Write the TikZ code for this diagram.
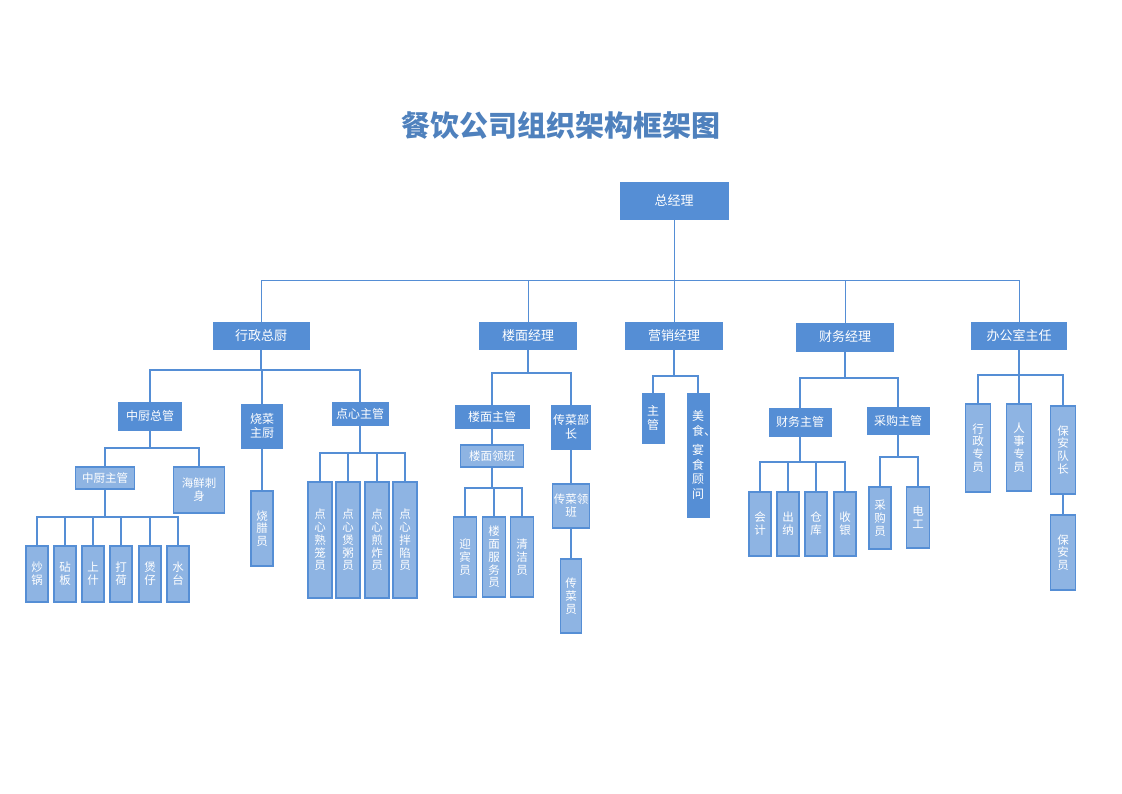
\documentclass[tikz,border=0pt]{standalone}
\usepackage{fontspec}
\setmainfont{Noto Sans CJK SC}
\usepackage{tikz}
\definecolor{deep}{RGB}{85,142,213}
\definecolor{pale}{RGB}{142,180,227}
\definecolor{headblue}{RGB}{79,129,189}

\begin{document}
\begin{tikzpicture}[x=1pt,y=-1pt,
                    headbox/.style={fill=deep,draw=deep,text=white,inner sep=0pt,align=center,font=\fontsize{12}{14.5}\selectfont},
                    staffbox/.style={fill=pale,draw=deep,line width=1.2pt,text=white,inner sep=0pt,align=center,font=\fontsize{11.5}{12.8}\selectfont},
                    link/.style={draw=deep,line width=1.4pt}]
                      \useasboundingbox (0,0) rectangle (1122,793);
                      \node[font=\bfseries\fontsize{29}{32}\selectfont,text=headblue](title)at(561,125){餐饮公司组织架构框架图};
                      \node[headbox,minimum width=108,minimum height=37,font=\fontsize{13}{15}\selectfont](zjl)at(674,200.5){总经理};
                      \node[headbox,minimum width=96,minimum height=27,font=\fontsize{13}{15}\selectfont](xzzc)at(261,335.5){行政总厨};
                      \node[headbox,minimum width=97,minimum height=27,font=\fontsize{13}{15}\selectfont](lmjl)at(528,335.5){楼面经理};
                      \node[headbox,minimum width=97,minimum height=27,font=\fontsize{13}{15}\selectfont](yxjl)at(674,335.5){营销经理};
                      \node[headbox,minimum width=97,minimum height=28,font=\fontsize{13}{15}\selectfont](cwjl)at(845,337){财务经理};
                      \node[headbox,minimum width=95,minimum height=27,font=\fontsize{13}{15}\selectfont](bgs)at(1019,335.5){办公室主任};
                      \coordinate (t0) at (674,280);
                      \draw[link,line width=1pt] (zjl) -- (t0);
                      \foreach \n in {xzzc,lmjl,yxjl,cwjl,bgs} \draw[link,line width=1pt] (t0) -| (\n.north);
                      \node[headbox,minimum width=63,minimum height=28](zczg)at(150,416){中厨总管};
                      \node[headbox,minimum width=41,minimum height=44](sczc)at(262,426){烧菜\\主厨};
                      \node[headbox,minimum width=56,minimum height=23](dxzg)at(360,413.5){点心主管};
                      \coordinate (t1) at (261,370);
                      \draw[link] (xzzc) -- (t1);
                      \foreach \n in {zczg,sczc,dxzg} \draw[link] (t1) -| (\n.north);
                      \node[staffbox,minimum width=59,minimum height=22](zczhu)at(105,478){中厨主管};
                      \node[staffbox,minimum width=51,minimum height=46](hxcs)at(199,490){海鲜刺\\身};
                      \coordinate (t2) at (150,448);
                      \draw[link] (zczg) -- (t2);
                      \foreach \n in {zczhu,hxcs} \draw[link] (t2) -| (\n.north);
                      \node[staffbox,minimum width=22,minimum height=56](cg)at(37,574){炒\\锅};
                      \node[staffbox,minimum width=22,minimum height=56](zb)at(65,574){砧\\板};
                      \node[staffbox,minimum width=22,minimum height=56](ss)at(93,574){上\\什};
                      \node[staffbox,minimum width=22,minimum height=56](dh)at(121,574){打\\荷};
                      \node[staffbox,minimum width=22,minimum height=56](bz)at(150,574){煲\\仔};
                      \node[staffbox,minimum width=22,minimum height=56](st)at(178,574){水\\台};
                      \coordinate (t3) at (105,517);
                      \draw[link] (zczhu) -- (t3);
                      \foreach \n in {cg,zb,ss,dh,bz,st} \draw[link] (t3) -| (\n.north);
                      \node[staffbox,minimum width=22,minimum height=75](sly)at(262,528.5){烧\\腊\\员};
                      \draw[link] (sczc) -- (sly);
                      \node[staffbox,minimum width=24,minimum height=116](dx1)at(320,540){点\\心\\熟\\笼\\员};
                      \node[staffbox,minimum width=24,minimum height=116](dx2)at(348,540){点\\心\\煲\\粥\\员};
                      \node[staffbox,minimum width=24,minimum height=116](dx3)at(377,540){点\\心\\煎\\炸\\员};
                      \node[staffbox,minimum width=24,minimum height=116](dx4)at(405,540){点\\心\\拌\\陷\\员};
                      \coordinate (t4) at (360,453);
                      \draw[link] (dxzg) -- (t4);
                      \foreach \n in {dx1,dx2,dx3,dx4} \draw[link] (t4) -| (\n.north);
                      \node[headbox,minimum width=74,minimum height=23](lmzg)at(492,416.5){楼面主管};
                      \node[headbox,minimum width=39,minimum height=44](ccbz)at(571,427){传菜部\\长};
                      \coordinate (t5) at (528,373);
                      \draw[link] (lmjl) -- (t5);
                      \foreach \n in {lmzg,ccbz} \draw[link] (t5) -| (\n.north);
                      \node[staffbox,minimum width=63,minimum height=22](lmlb)at(492,456){楼面领班};
                      \draw[link] (lmzg) -- (lmlb);
                      \node[staffbox,minimum width=23,minimum height=80](ybj)at(465,557){迎\\宾\\员};
                      \node[staffbox,minimum width=23,minimum height=80](fwy)at(494,557){楼\\面\\服\\务\\员};
                      \node[staffbox,minimum width=23,minimum height=80](qjy)at(522,557){清\\洁\\员};
                      \coordinate (t6) at (492,488);
                      \draw[link] (lmlb) -- (t6);
                      \foreach \n in {ybj,fwy,qjy} \draw[link] (t6) -| (\n.north);
                      \node[staffbox,minimum width=37,minimum height=44](cclb)at(571,506){传菜领\\班};
                      \draw[link] (ccbz) -- (cclb);
                      \node[staffbox,minimum width=21,minimum height=74](ccy)at(571,596){传\\菜\\员};
                      \draw[link] (cclb) -- (ccy);
                      \node[headbox,minimum width=22,minimum height=50](zg)at(653,418){主\\管};
                      \node[headbox,minimum width=22,minimum height=124](msgw)at(698,455){美\\食\rlap{、}\\[5pt]宴\\食\\顾\\问};
                      \coordinate (t7) at (674,376);
                      \draw[link] (yxjl) -- (t7);
                      \foreach \n in {zg,msgw} \draw[link] (t7) -| (\n.north);
                      \node[headbox,minimum width=62,minimum height=28](cwzg)at(800,422){财务主管};
                      \node[headbox,minimum width=62,minimum height=27](cgzg)at(898,420.5){采购主管};
                      \coordinate (t8) at (845,378);
                      \draw[link] (cwjl) -- (t8);
                      \foreach \n in {cwzg,cgzg} \draw[link] (t8) -| (\n.north);
                      \node[staffbox,minimum width=22,minimum height=64](kj)at(760,524){会\\计};
                      \node[staffbox,minimum width=22,minimum height=64](cn)at(788,524){出\\纳};
                      \node[staffbox,minimum width=22,minimum height=64](ck)at(816,524){仓\\库};
                      \node[staffbox,minimum width=22,minimum height=64](sy)at(845,524){收\\银};
                      \coordinate (t9) at (800,462);
                      \draw[link] (cwzg) -- (t9);
                      \foreach \n in {kj,cn,ck,sy} \draw[link] (t9) -| (\n.north);
                      \node[staffbox,minimum width=22,minimum height=62](cgy)at(880,518){采\\购\\员};
                      \node[staffbox,minimum width=23,minimum height=61](dg)at(918,517.5){电\\工};
                      \coordinate (t10) at (898,457);
                      \draw[link] (cgzg) -- (t10);
                      \foreach \n in {cgy,dg} \draw[link] (t10) -| (\n.north);
                      \node[staffbox,minimum width=25,minimum height=88](xzzy)at(978,448){行\\政\\专\\员};
                      \node[staffbox,minimum width=25,minimum height=87](rszy)at(1019,447.5){人\\事\\专\\员};
                      \node[staffbox,minimum width=25,minimum height=88](badz)at(1063,450){保\\安\\队\\长};
                      \coordinate (t11) at (1019,375);
                      \draw[link] (bgs) -- (t11);
                      \foreach \n in {xzzy,rszy,badz} \draw[link] (t11) -| (\n.north);
                      \node[staffbox,minimum width=25,minimum height=75](bay)at(1063,552.5){保\\安\\员};
                      \draw[link] (badz) -- (bay);
                  \end{tikzpicture}
\end{document}
